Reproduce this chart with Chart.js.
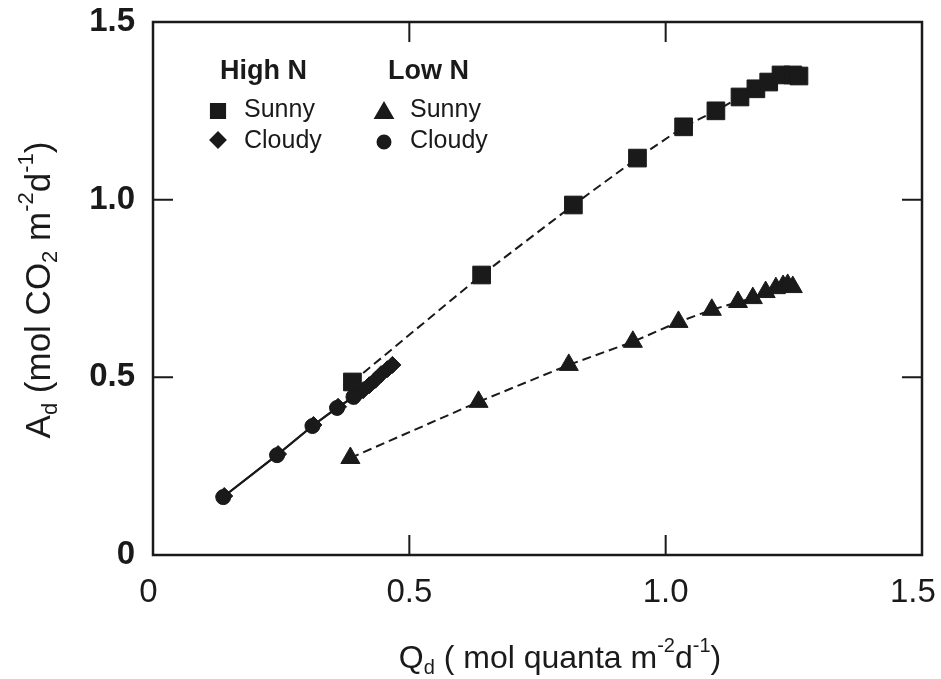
<!DOCTYPE html>
<html>
<head>
<meta charset="utf-8">
<script src="https://cdn.jsdelivr.net/npm/chart.js@4"></script>
<style>
  html, body { margin: 0; padding: 0; background: #fff; }
  #wrap { width: 941px; height: 679px; }
</style>
</head>
<body>
<div id="wrap"><canvas id="chart" width="941" height="679"></canvas></div>
<script>
"use strict";

// values
const highSunnyQ = [0.389, 0.641, 0.820, 0.945, 1.035, 1.098, 1.145, 1.176, 1.201, 1.225, 1.248, 1.260];
const highSunnyA = [0.487, 0.788, 0.985, 1.117, 1.205, 1.250, 1.289, 1.312, 1.331, 1.351, 1.351, 1.348];

const highCloudyQ = [0.139, 0.244, 0.313, 0.361, 0.396, 0.410, 0.422, 0.434, 0.445, 0.457, 0.467];
const highCloudyA = [0.166, 0.284, 0.366, 0.417, 0.448, 0.464, 0.478, 0.493, 0.509, 0.523, 0.535];

const lowSunnyQ = [0.385, 0.635, 0.811, 0.936, 1.025, 1.090, 1.141, 1.170, 1.195, 1.215, 1.229, 1.238, 1.248];
const lowSunnyA = [0.273, 0.431, 0.535, 0.600, 0.656, 0.690, 0.712, 0.723, 0.740, 0.751, 0.757, 0.760, 0.754];

const lowCloudyQ = [0.137, 0.242, 0.311, 0.359, 0.391];
const lowCloudyA = [0.163, 0.281, 0.363, 0.414, 0.445];

const tickValues = [0, 0.5, 1.0, 1.5];
const tickLabels = ["0", "0.5", "1.0", "1.5"];
const innerTicks = [0.5, 1.0];

const ink = "#1a1a1a";
const font = "'Liberation Sans', Arial, Helvetica, sans-serif";

const toPoints = (xs, ys) => xs.map((x, i) => ({ x: x, y: ys[i] }));

// draws text with sub/superscript parts, centred at (cx, cy)
function drawRich(ctx, parts, cx, cy, size) {
  const small = Math.round(size * 0.64);
  let total = 0;
  parts.forEach(p => {
    ctx.font = (p[1] ? small : size) + "px " + font;
    total += ctx.measureText(p[0]).width;
  });
  let x = cx - total / 2;
  parts.forEach(p => {
    ctx.font = (p[1] ? small : size) + "px " + font;
    let dy = 0;
    if (p[1] === 1) dy = -size * 0.38;
    if (p[1] === -1) dy = size * 0.3;
    ctx.fillText(p[0], x, cy + dy);
    x += ctx.measureText(p[0]).width;
  });
}

const framePlugin = {
  id: "frame",
  afterDraw(chart) {
    const ctx = chart.ctx;
    const a = chart.chartArea;
    const xs = chart.scales.x;
    const ys = chart.scales.y;
    const tl = 20;
    ctx.save();
    ctx.strokeStyle = ink;
    ctx.lineWidth = 2.5;
    ctx.strokeRect(a.left, a.top, a.right - a.left, a.bottom - a.top);
    ctx.lineWidth = 2;
    ctx.beginPath();
    innerTicks.forEach(v => {
      const px = xs.getPixelForValue(v);
      const py = ys.getPixelForValue(v);
      ctx.moveTo(px, a.bottom); ctx.lineTo(px, a.bottom - tl);
      ctx.moveTo(px, a.top); ctx.lineTo(px, a.top + tl);
      ctx.moveTo(a.left, py); ctx.lineTo(a.left + tl, py);
      ctx.moveTo(a.right, py); ctx.lineTo(a.right - tl, py);
    });
    ctx.stroke();

    // axis titles
    ctx.fillStyle = ink;
    ctx.textBaseline = "middle";
    ctx.textAlign = "left";
    drawRich(ctx, [["Q", 0], ["d", -1], [" ( mol quanta m", 0], ["-2", 1], ["d", 0], ["-1", 1], [")", 0]],
      560, 659, 32);
    ctx.save();
    ctx.translate(40, 290);
    ctx.rotate(-Math.PI / 2);
    drawRich(ctx, [["A", 0], ["d", -1], [" (mol CO", 0], ["2", -1], [" m", 0], ["-2", 1], ["d", 0], ["-1", 1], [")", 0]],
      0, 0, 35);
    ctx.restore();

    // legend
    ctx.font = "bold 27px " + font;
    ctx.fillText("High N", 220, 72);
    ctx.fillText("Low N", 388, 72);
    ctx.font = "25px " + font;
    ctx.fillText("Sunny", 244, 110);
    ctx.fillText("Cloudy", 244, 141);
    ctx.fillText("Sunny", 410, 110);
    ctx.fillText("Cloudy", 410, 141);
    ctx.fillStyle = ink;
    ctx.strokeStyle = ink;
    Chart.helpers.drawPoint(ctx, { pointStyle: "rect", radius: 10, borderWidth: 1 }, 218, 111);
    Chart.helpers.drawPoint(ctx, { pointStyle: "rectRot", radius: 7.5, borderWidth: 1 }, 218, 140);
    Chart.helpers.drawPoint(ctx, { pointStyle: "triangle", radius: 10, borderWidth: 1 }, 384, 113);
    Chart.helpers.drawPoint(ctx, { pointStyle: "circle", radius: 6.5, borderWidth: 1 }, 384, 142);
    ctx.restore();
  }
};

const baseSet = {
  showLine: true,
  borderColor: ink,
  backgroundColor: ink,
  pointBackgroundColor: ink,
  pointBorderColor: ink,
  borderWidth: 2,
  pointBorderWidth: 1,
  pointHoverRadius: 0
};

const labelFor = v => tickLabels[tickValues.indexOf(v)] || "";

new Chart(document.getElementById("chart").getContext("2d"), {
  type: "scatter",
  data: {
    datasets: [
      Object.assign({}, baseSet, {
        label: "High N Sunny",
        data: toPoints(highSunnyQ, highSunnyA),
        borderDash: [9, 5],
        pointStyle: "rect",
        pointRadius: 12.5
      }),
      Object.assign({}, baseSet, {
        label: "Low N Sunny",
        data: toPoints(lowSunnyQ, lowSunnyA),
        borderDash: [9, 5],
        pointStyle: "triangle",
        pointRadius: 11
      }),
      Object.assign({}, baseSet, {
        label: "High N Cloudy",
        data: toPoints(highCloudyQ, highCloudyA),
        pointStyle: "rectRot",
        pointRadius: 8.5
      }),
      Object.assign({}, baseSet, {
        label: "Low N Cloudy",
        data: toPoints(lowCloudyQ, lowCloudyA),
        pointStyle: "circle",
        pointRadius: 7.5
      })
    ]
  },
  options: {
    responsive: false,
    animation: false,
    layout: { padding: { top: 22, right: 19, left: 0, bottom: 0 } },
    plugins: { legend: { display: false }, tooltip: { enabled: false } },
    scales: {
      x: {
        type: "linear",
        min: 0,
        max: 1.5,
        afterBuildTicks: s => { s.ticks = tickValues.map(v => ({ value: v })); },
        afterFit: s => {
          s.height = 124;
          s.paddingLeft = 0;
          s.paddingRight = 0;
        },
        grid: { display: false, drawTicks: false },
        border: { display: false },
        ticks: {
          padding: 18,
          color: ink,
          font: { family: font, size: 33 },
          // trailing spaces nudge the end labels inward like the original
          callback: v => (v === 0 ? "0 " : v === 1.5 ? "1.5  " : labelFor(v))
        }
      },
      y: {
        type: "linear",
        min: 0,
        max: 1.5,
        afterBuildTicks: s => { s.ticks = tickValues.map(v => ({ value: v })); },
        afterFit: s => {
          s.width = 153;
          s.paddingTop = 0;
          s.paddingBottom = 0;
        },
        grid: { display: false, drawTicks: false },
        border: { display: false },
        ticks: {
          padding: 18,
          color: ink,
          font: { family: font, size: 33, weight: "bold" },
          callback: v => labelFor(v)
        }
      }
    }
  },
  plugins: [framePlugin]
});
</script>
</body>
</html>
